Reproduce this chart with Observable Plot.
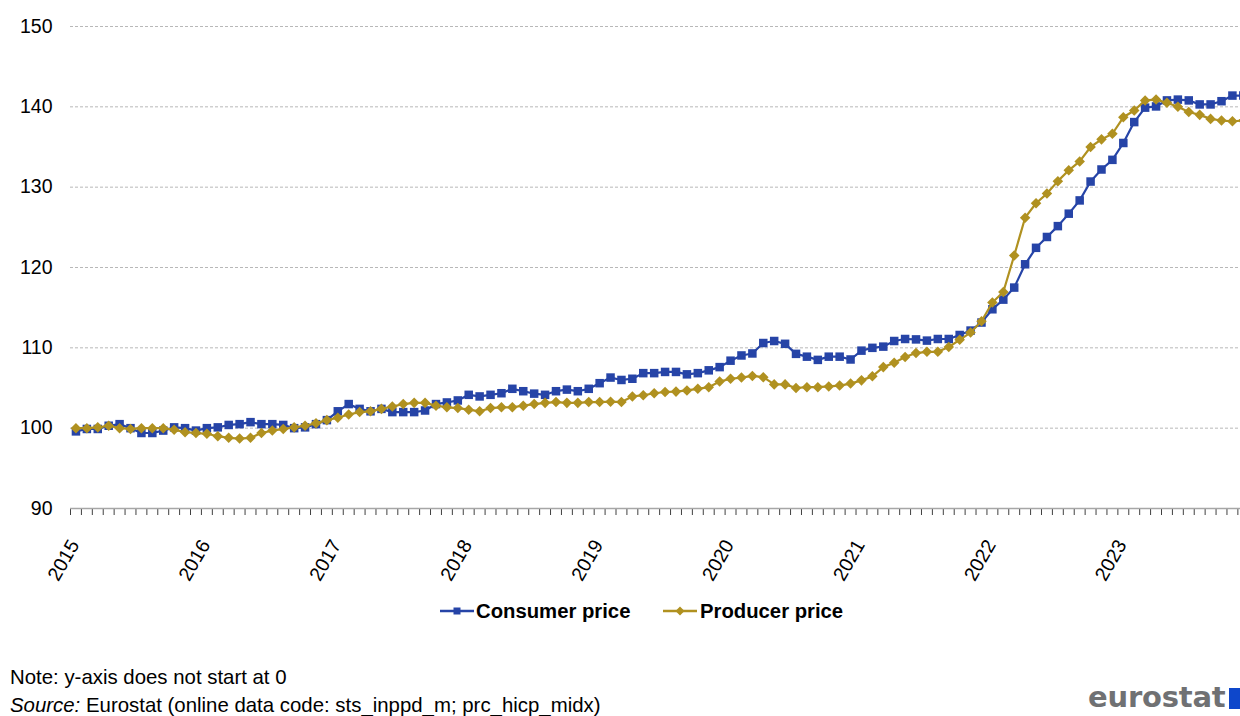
<!DOCTYPE html>
<html>
<head>
<meta charset="utf-8">
<script src="https://cdn.jsdelivr.net/npm/d3@7"></script>
<script src="https://cdn.jsdelivr.net/npm/@observablehq/plot@0.6"></script>
<style>
html, body { margin: 0; padding: 0; background: #fff; overflow: hidden; }
#wrap { position: relative; width: 1240px; height: 716px; overflow: hidden; font-family: "Liberation Sans", Arial, sans-serif; color: #000; }
#chart { position: absolute; left: 0; top: 0; }
#legend { position: absolute; left: 0; top: 598px; width: 1240px; height: 26px; }
.leg { position: absolute; top: 0; height: 26px; line-height: 26px; font-weight: bold; font-size: 20.3px; white-space: nowrap; }
.leg svg { position: absolute; top: 0; }
.foot { position: absolute; left: 10px; font-size: 20.4px; line-height: 24px; white-space: nowrap; }
#logo { position: absolute; left: 1088px; top: 682px; font-family: "DejaVu Sans", sans-serif; font-weight: bold; font-size: 29px; line-height: 30px; color: #707173; letter-spacing: -0.2px; }
#flag { position: absolute; left: 1229px; top: 688px; width: 12px; height: 21px; background: #0e47cb; }
</style>
</head>
<body>
<div id="wrap">
  <div id="chart"></div>
  <div id="legend"></div>
  <div class="foot" style="top:665px;">Note: y-axis does not start at 0</div>
  <div class="foot" style="top:693px;"><i>Source:</i> Eurostat (online data code: sts_inppd_m; prc_hicp_midx)</div>
  <div id="logo">eurostat</div>
  <div id="flag"></div>
</div>
<script>
// Year tick labels (one every 12 months, Jan 2015 .. Dec 2023)
const years = [2015, 2016, 2017, 2018, 2019, 2020, 2021, 2022, 2023];

// Monthly indices, Jan 2015 .. Dec 2023
const consumer = [
  99.6, 99.9, 99.9, 100.3, 100.5, 100.0, 99.4, 99.4, 99.7, 100.1, 100.0, 99.7,
  100.0, 100.1, 100.4, 100.5, 100.75, 100.5, 100.5, 100.4, 100.0, 100.1, 100.5, 101.0,
  102.1, 103.0, 102.4, 102.1, 102.4, 102.0, 102.0, 102.0, 102.2, 103.0, 103.2, 103.45,
  104.15, 103.95, 104.15, 104.35, 104.9, 104.6, 104.3, 104.15, 104.6, 104.8, 104.6, 104.9,
  105.6, 106.3, 106.0, 106.15, 106.85, 106.85, 107.0, 107.0, 106.7, 106.85, 107.2, 107.6,
  108.4, 109.05, 109.3, 110.6, 110.85, 110.5, 109.25, 108.9, 108.5, 108.9, 108.9, 108.55,
  109.65, 110.0, 110.15, 110.85, 111.1, 111.05, 110.9, 111.1, 111.1, 111.6, 112.15, 113.15,
  114.8, 116.0, 117.5, 120.4, 122.45, 123.8, 125.15, 126.7, 128.35, 130.7, 132.2, 133.4,
  135.5, 138.1, 139.9, 140.05, 140.8, 140.9, 140.8, 140.3, 140.3, 140.7, 141.4, 141.4
];
const producer = [
  100.0, 100.0, 100.1, 100.3, 100.0, 99.9, 100.0, 100.0, 100.0, 99.8, 99.5, 99.4,
  99.3, 99.0, 98.8, 98.7, 98.8, 99.4, 99.7, 99.9, 100.1, 100.3, 100.6, 101.0,
  101.3, 101.7, 102.0, 102.1, 102.4, 102.7, 103.0, 103.15, 103.15, 102.8, 102.6, 102.5,
  102.3, 102.1, 102.5, 102.6, 102.6, 102.8, 103.0, 103.15, 103.25, 103.15, 103.15, 103.25,
  103.25, 103.3, 103.25, 103.95, 104.1, 104.35, 104.5, 104.55, 104.7, 104.9, 105.1, 105.8,
  106.15, 106.3, 106.5, 106.35, 105.45, 105.45, 105.0, 105.1, 105.1, 105.2, 105.3, 105.55,
  105.95, 106.45, 107.6, 108.15, 108.85, 109.35, 109.5, 109.5, 110.1, 111.0, 111.9, 113.3,
  115.65, 116.95, 121.5, 126.2, 128.0, 129.2, 130.75, 132.1, 133.2, 135.0, 135.95, 136.65,
  138.7, 139.55, 140.8, 140.9, 140.5, 140.0, 139.35, 139.0, 138.5, 138.3, 138.2, 138.3
];

const seriesNames = ["Consumer price", "Producer price"];
const seriesColors = ["#2644A7", "#B09120"];
const yTicks = [90, 100, 110, 120, 130, 140, 150];

const rowsC = consumer.map((v, i) => ({ m: i + 0.5, value: v }));
const rowsP = producer.map((v, i) => ({ m: i + 0.5, value: v }));

const squareSym = { draw(ctx, size) { const h = Math.sqrt(size) / 2; ctx.moveTo(-h, -h); ctx.lineTo(h, -h); ctx.lineTo(h, h); ctx.lineTo(-h, h); ctx.closePath(); } };
const diamondSym = { draw(ctx, size) { const s = Math.sqrt(size / 2); ctx.moveTo(0, -s); ctx.lineTo(s, 0); ctx.lineTo(0, s); ctx.lineTo(-s, 0); ctx.closePath(); } };

const nMonths = years.length * 12;

const chart = Plot.plot({
  width: 1240,
  height: 590,
  marginLeft: 70,
  marginRight: 0,
  marginTop: 26,
  marginBottom: 82,
  style: { fontFamily: '"Liberation Sans", Arial, sans-serif', fontSize: "19.5px", color: "#000", background: "#fff", overflow: "hidden" },
  x: { type: "linear", domain: [0, nMonths], range: [70, 70 + 10.91 * nMonths] },
  y: { domain: [90, 150] },
  marks: [
    Plot.gridY(yTicks.slice(1), { stroke: "#b8b8b8", strokeOpacity: 1, strokeDasharray: "3,2", strokeWidth: 1 }),
    Plot.axisY(yTicks, { tickSize: 0, tickPadding: 18, label: null, fontSize: 19.5, fill: "#000" }),
    Plot.axisX(d3.range(0, nMonths + 1), { tickSize: 7, tickFormat: () => "", label: null, stroke: "#404040", strokeWidth: 1 }),
    Plot.ruleY([90], { stroke: "#a6a6a6", strokeWidth: 1.5 }),
    Plot.axisX(d3.range(0, nMonths, 12), { tickSize: 0, tickPadding: 33, tickRotate: -60, dx: 4, tickFormat: d => String(years[d / 12]), label: null, fontSize: 19.5, fill: "#000" }),
    Plot.line(rowsC, { x: "m", y: "value", stroke: seriesColors[0], strokeWidth: 2.2 }),
    Plot.dot(rowsC, { x: "m", y: "value", symbol: squareSym, r: 4.8, fill: seriesColors[0], stroke: "none" }),
    Plot.line(rowsP, { x: "m", y: "value", stroke: seriesColors[1], strokeWidth: 2.2 }),
    Plot.dot(rowsP, { x: "m", y: "value", symbol: diamondSym, r: 4.2, fill: seriesColors[1], stroke: "none" })
  ]
});
document.getElementById("chart").appendChild(chart);

// Legend
const legend = document.getElementById("legend");
const legPos = [{ sx: 440, tx: 476 }, { sx: 663, tx: 700 }];
seriesNames.forEach((name, k) => {
  const sw = document.createElementNS("http://www.w3.org/2000/svg", "svg");
  sw.setAttribute("width", 34); sw.setAttribute("height", 26);
  sw.style.position = "absolute"; sw.style.left = legPos[k].sx + "px"; sw.style.top = "0px";
  const c = seriesColors[k];
  const marker = k === 0
    ? `<rect x="13.5" y="9.5" width="7" height="7" fill="${c}"/>`
    : `<path d="M17,8.5 L21.5,13 L17,17.5 L12.5,13 Z" fill="${c}"/>`;
  sw.innerHTML = `<line x1="0" x2="34" y1="13" y2="13" stroke="${c}" stroke-width="2.3"/>` + marker;
  legend.appendChild(sw);
  const t = document.createElement("div");
  t.className = "leg"; t.style.left = legPos[k].tx + "px"; t.textContent = name;
  legend.appendChild(t);
});
</script>
</body>
</html>
